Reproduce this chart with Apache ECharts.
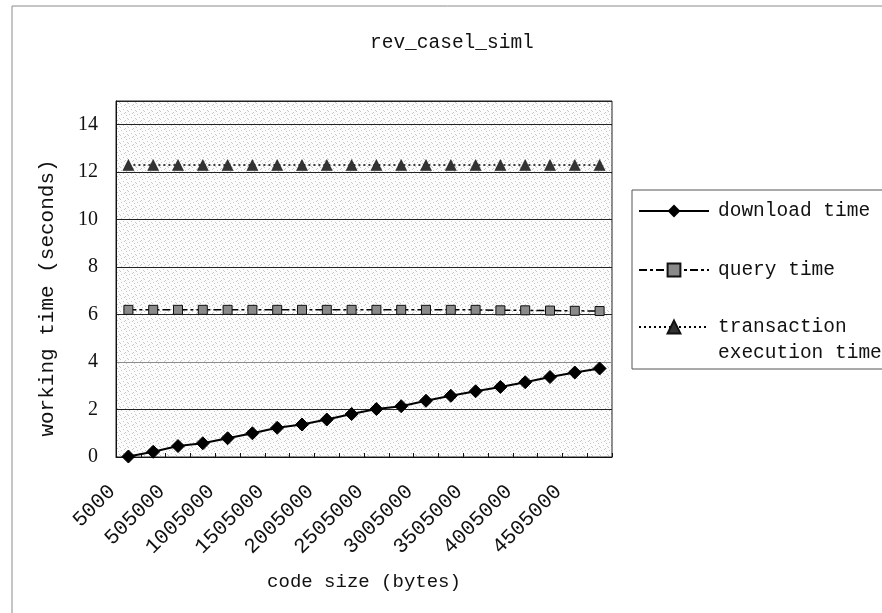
<!DOCTYPE html>
<html>
<head>
<meta charset="utf-8">
<script src="https://cdn.jsdelivr.net/npm/echarts@6/dist/echarts.min.js"></script>
<style>
  html, body { margin: 0; padding: 0; background: #fff; }
  #chart { width: 882px; height: 613px; }
</style>
</head>
<body>
<div id="chart"></div>
<script>
// Code size categories (bytes)
const codeSizes = ['5000', '255000', '505000', '755000', '1005000', '1255000', '1505000',
  '1755000', '2005000', '2255000', '2505000', '2755000', '3005000', '3255000', '3505000',
  '3755000', '4005000', '4255000', '4505000', '4755000'];

// Working time (seconds)
const downloadTime = [0.02, 0.22, 0.46, 0.58, 0.79, 1.0, 1.23, 1.37, 1.58, 1.81,
  2.02, 2.14, 2.37, 2.58, 2.77, 2.95, 3.15, 3.37, 3.56, 3.73];
const queryTime = [6.2, 6.2, 6.2, 6.2, 6.2, 6.2, 6.2, 6.2, 6.2, 6.2,
  6.2, 6.2, 6.2, 6.2, 6.2, 6.18, 6.18, 6.17, 6.16, 6.15];
const transactionTime = [12.3, 12.3, 12.3, 12.3, 12.3, 12.3, 12.3, 12.3, 12.3, 12.3,
  12.3, 12.3, 12.3, 12.3, 12.3, 12.3, 12.3, 12.3, 12.3, 12.3];

const seriesNames = ['download time', 'query time', 'transaction execution time'];
const chartTitle = 'rev_casel_siml';
const xAxisTitle = 'code size (bytes)';
const yAxisTitle = 'working time (seconds)';

// Stippled fill for the plot area
function stippleTile() {
  const c = document.createElement('canvas');
  c.width = 8; c.height = 8;
  const ctx = c.getContext('2d');
  ctx.fillStyle = '#fcfcfc';
  ctx.fillRect(0, 0, 8, 8);
  ctx.fillStyle = '#c6c6c6';
  [[1, 2], [5, 0], [3, 5], [7, 6], [0, 7], [6, 3], [4, 1]].forEach(p => ctx.fillRect(p[0], p[1], 1, 1));
  return c;
}

const monoFont = '"Liberation Mono", "DejaVu Sans Mono", monospace';
const serifFont = '"Liberation Serif", "DejaVu Serif", serif';

// One legend entry per block so each row can sit at its own height
const legendText = { fontFamily: monoFont, fontSize: 19.5, color: '#111', lineHeight: 26 };
function legendRow(name, top, formatter) {
  return {
    orient: 'vertical',
    left: 638,
    top: top,
    padding: 0,
    itemWidth: 70,
    itemHeight: 16,
    textStyle: Object.assign({}, legendText, { padding: [0, 0, 0, 4] }),
    formatter: formatter || (n => n),
    data: [name]
  };
}

const chart = echarts.init(document.getElementById('chart'), null, { renderer: 'canvas' });

chart.setOption({
  backgroundColor: '#fff',
  animation: false,
  title: {
    text: chartTitle,
    left: 370,
    top: 33,
    padding: 0,
    textStyle: { fontFamily: monoFont, fontSize: 19.5, fontWeight: 'normal', color: '#111' }
  },
  graphic: [
    {
      type: 'rect',
      shape: { x: 12, y: 6, width: 880, height: 620 },
      style: { fill: 'none', stroke: '#8a8a8a', lineWidth: 1 },
      silent: true,
      z: -1
    },
    {
      type: 'rect',
      shape: { x: 632, y: 190, width: 260, height: 179 },
      style: { fill: '#fff', stroke: '#555', lineWidth: 1 },
      silent: true,
      z: -1
    }
  ],
  grid: {
    left: 116, top: 101, width: 496, height: 356,
    show: true,
    borderColor: '#222',
    borderWidth: 1,
    backgroundColor: { image: stippleTile(), repeat: 'repeat' }
  },
  legend: [
    legendRow(seriesNames[0], 198),
    legendRow(seriesNames[1], 257),
    legendRow(seriesNames[2], 288, () => '\ntransaction\nexecution time')
  ],
  xAxis: {
    type: 'category',
    data: codeSizes,
    boundaryGap: true,
    name: xAxisTitle,
    nameLocation: 'middle',
    nameGap: 115,
    nameTextStyle: { fontFamily: monoFont, fontSize: 19, color: '#111' },
    axisLine: { lineStyle: { color: '#111', width: 1 } },
    axisTick: { show: true, inside: true, length: 4, interval: 0, lineStyle: { color: '#111' } },
    axisLabel: {
      interval: 1,
      rotate: 45,
      margin: 15,
      padding: [0, 23, 0, 0],
      fontFamily: monoFont,
      fontSize: 21,
      color: '#111'
    },
    splitLine: { show: false }
  },
  yAxis: {
    type: 'value',
    min: 0,
    max: 15,
    interval: 2,
    name: yAxisTitle,
    nameLocation: 'middle',
    nameRotate: 90,
    nameGap: 58,
    nameTextStyle: { fontFamily: monoFont, fontSize: 21, color: '#111', padding: [0, 38, 0, 0] },
    axisLine: { show: true, lineStyle: { color: '#111', width: 1 } },
    axisTick: { show: false },
    axisLabel: {
      margin: 18,
      fontFamily: serifFont,
      fontSize: 20,
      color: '#111',
      formatter: v => (v % 2 === 0 ? String(v) : '')
    },
    splitLine: {
      show: true,
      lineStyle: { color: ['#222', '#222', '#8c8c8c', '#222', '#222', '#222', '#222', '#222', '#222'], width: 1.2 }
    }
  },
  series: [
    {
      name: seriesNames[0],
      type: 'line',
      data: downloadTime,
      symbol: 'diamond',
      symbolSize: 13,
      lineStyle: { color: '#000', width: 2, type: 'solid' },
      itemStyle: { color: '#000', borderColor: '#000' },
      z: 4
    },
    {
      name: seriesNames[1],
      type: 'line',
      data: queryTime,
      symbol: 'rect',
      symbolSize: 9,
      lineStyle: { color: '#000', width: 1.5, type: [8, 3, 3, 3] },
      itemStyle: { color: '#8a8a8a', borderColor: '#111', borderWidth: 1 },
      z: 3
    },
    {
      name: seriesNames[2],
      type: 'line',
      data: transactionTime,
      symbol: 'triangle',
      symbolSize: [11, 11],
      lineStyle: { color: '#000', width: 1.5, type: [2, 3] },
      itemStyle: { color: '#333', borderColor: '#111', borderWidth: 0.5 },
      z: 3
    }
  ]
});
</script>
</body>
</html>
